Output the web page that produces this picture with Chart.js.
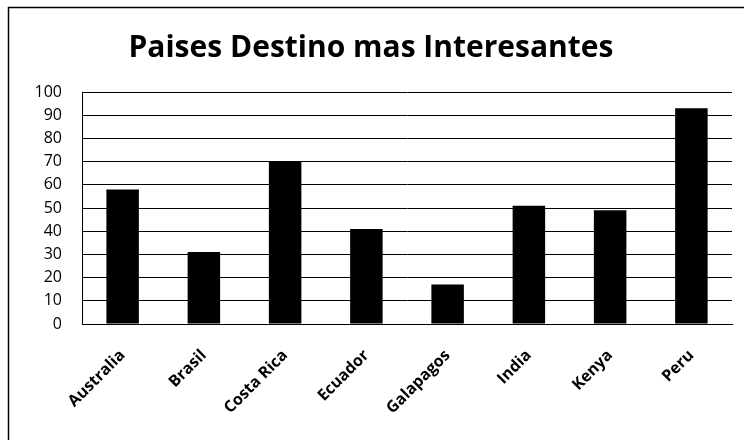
<!DOCTYPE html>
<html>
<head>
<meta charset="utf-8">
<title>Paises Destino mas Interesantes</title>
<script src="https://cdn.jsdelivr.net/npm/chart.js@4"></script>
<style>
    html, body { margin: 0; padding: 0; background: #fff; }
    #wrap { width: 744px; height: 440px; }
</style>
</head>
<body>
<div id="wrap"><canvas id="destinosChart" width="744" height="440"></canvas></div>
<script>
// Destination countries and their interest scores
const paises = ['Australia', 'Brasil', 'Costa Rica', 'Ecuador', 'Galapagos', 'India', 'Kenya', 'Peru'];
const puntajes = [58, 31, 70, 41, 17, 51, 49, 93];
const yTicks = [0, 10, 20, 30, 40, 50, 60, 70, 80, 90, 100];

const FONT = '"Open Sans", Lato, sans-serif';

// Outer frame around the chart (left and top edges)
const framePlugin = {
    id: 'frame',
    beforeDraw(chart) {
        const ctx = chart.ctx;
        ctx.save();
        ctx.strokeStyle = '#000';
        ctx.lineWidth = 1.5;
        ctx.beginPath();
        ctx.moveTo(8.5, chart.height);
        ctx.lineTo(8.5, 7.5);
        ctx.lineTo(chart.width, 7.5);
        ctx.stroke();
        ctx.restore();
    }
};

new Chart(document.getElementById('destinosChart'), {
    type: 'bar',
    data: {
        labels: paises,
        datasets: [{
            label: 'Puntaje',
            data: puntajes,
            backgroundColor: '#000',
            borderWidth: 0,
            categoryPercentage: 1,
            barPercentage: 0.4
        }]
    },
    options: {
        responsive: false,
        animation: false,
        layout: { padding: { left: 10, right: 12, top: 0, bottom: 0 } },
        plugins: {
            legend: { display: false },
            tooltip: { enabled: false },
            title: {
                display: true,
                text: 'Paises Destino mas Interesantes',
                color: '#000',
                font: { family: FONT, size: 30, weight: 'bold', lineHeight: 1.2 },
                padding: { top: 30, bottom: 26 }
            }
        },
        scales: {
            x: {
                grid: { display: false, drawTicks: false },
                border: { display: true, color: '#000', width: 1 },
                ticks: {
                    color: '#000',
                    autoSkip: false,
                    minRotation: 45,
                    maxRotation: 45,
                    padding: 22,
                    font: { family: FONT, size: 16, weight: 'bold' }
                },
                afterFit(scale) { scale.height = 116; }
            },
            y: {
                min: 0,
                max: 100,
                afterBuildTicks(scale) { scale.ticks = yTicks.map(v => ({ value: v })); },
                grid: { color: '#000', lineWidth: 1, drawTicks: false },
                border: { display: true, color: '#000', width: 1 },
                ticks: {
                    color: '#000',
                    autoSkip: false,
                    padding: 20,
                    font: { family: FONT, size: 16 }
                },
                afterFit(scale) { scale.width = 72; }
            }
        }
    },
    plugins: [framePlugin]
});
</script>
</body>
</html>
